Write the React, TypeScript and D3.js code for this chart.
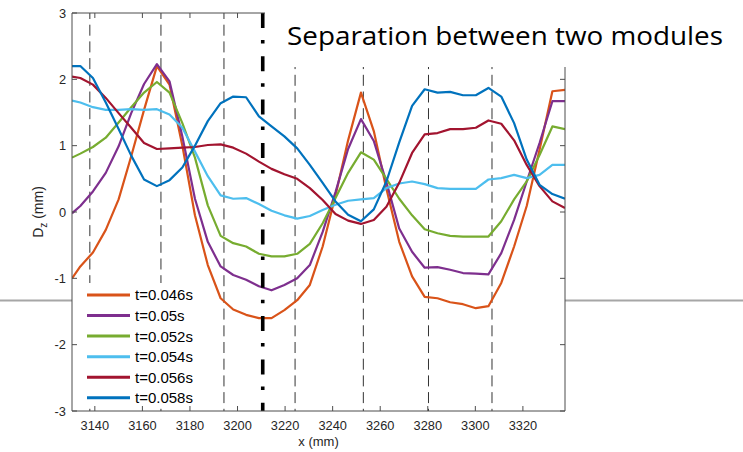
import React from "react";
import * as d3 from "d3";

const width = 743;
const height = 452;
const plot = { left: 72, right: 565, top: 13, bottom: 411 };

// x positions along the module (mm); first value is where the axis cuts the curves
const positions = [
  3130.4, 3133.9, 3139.2, 3144.6, 3150.0, 3155.3, 3160.7, 3166.1, 3171.4, 3176.8,
  3182.1, 3187.5, 3192.9, 3198.2, 3203.6, 3209.0, 3214.3, 3219.7, 3225.1, 3230.4,
  3235.8, 3241.2, 3246.5, 3251.9, 3257.3, 3262.6, 3268.0, 3273.4, 3278.7, 3284.1,
  3289.4, 3294.8, 3300.2, 3305.5, 3310.9, 3316.3, 3321.6, 3327.0, 3332.4, 3337.7,
];

const dz046 = [
  -1.0, -0.82, -0.61, -0.27, 0.19, 0.84, 1.54, 2.2, 1.92, 1.0,
  -0.05, -0.8, -1.3, -1.47, -1.55, -1.6, -1.6, -1.48, -1.33, -1.1,
  -0.52, 0.25, 1.08, 1.8, 1.22, 0.35, -0.45, -0.97, -1.28, -1.3,
  -1.36, -1.39, -1.45, -1.42, -1.07, -0.52, 0.09, 0.94, 1.82, 1.84,
];
const dz050 = [
  -0.02, 0.09, 0.31, 0.59, 0.99, 1.49, 1.93, 2.23, 1.97, 1.14,
  0.2, -0.45, -0.82, -0.95, -1.02, -1.12, -1.18, -1.1, -1.0, -0.8,
  -0.3, 0.3, 0.95, 1.4, 1.07, 0.45, -0.25, -0.6, -0.84, -0.83,
  -0.87, -0.92, -0.93, -0.94, -0.62, -0.12, 0.46, 1.04, 1.67, 1.67,
];
const dz052 = [
  0.82, 0.88, 0.98, 1.12, 1.35, 1.58, 1.8, 1.96, 1.8, 1.34,
  0.82, 0.1, -0.36, -0.47, -0.52, -0.63, -0.67, -0.67, -0.63, -0.48,
  -0.17, 0.21, 0.59, 0.9, 0.79, 0.5, 0.2, -0.05, -0.26, -0.32,
  -0.36, -0.37, -0.37, -0.37, -0.14, 0.19, 0.46, 0.86, 1.29, 1.25,
];
const dz054 = [
  1.68, 1.65, 1.58, 1.54, 1.54, 1.55, 1.54, 1.55, 1.47, 1.27,
  0.91, 0.54, 0.25, 0.2, 0.21, 0.12, 0.02, -0.05, -0.1, -0.06,
  0.03, 0.11, 0.17, 0.19, 0.21, 0.36, 0.43, 0.46, 0.42, 0.36,
  0.35, 0.35, 0.35, 0.49, 0.51, 0.56, 0.51, 0.56, 0.71, 0.71,
];
const dz056 = [
  2.04, 2.02, 1.92, 1.72, 1.49, 1.27, 1.04, 0.95, 0.96, 0.97,
  0.98, 1.01, 1.02, 0.97, 0.88, 0.76, 0.65, 0.57, 0.5, 0.36,
  0.18, -0.03, -0.13, -0.18, -0.12, 0.08, 0.44, 0.89, 1.17, 1.19,
  1.25, 1.25, 1.27, 1.38, 1.33, 1.08, 0.71, 0.39, 0.16, 0.06,
];
const dz058 = [
  2.2, 2.2, 2.02, 1.65, 1.25, 0.85, 0.49, 0.39, 0.48, 0.67,
  1.0, 1.37, 1.64, 1.74, 1.73, 1.44, 1.29, 1.14, 0.96, 0.71,
  0.44, 0.16, -0.04, -0.14, 0.04, 0.46, 1.05, 1.6, 1.85, 1.8,
  1.81, 1.76, 1.76, 1.87, 1.74, 1.34, 0.79, 0.41, 0.27, 0.2,
];

const labels = ["t=0.046s", "t=0.05s", "t=0.052s", "t=0.054s", "t=0.056s", "t=0.058s"];
const colors = ["#D95319", "#7E2F8E", "#77AC30", "#4DBEEE", "#A2142F", "#0072BD"];
const allSeries = [dz046, dz050, dz052, dz054, dz056, dz058];

// dashed lines at the joints, dash-dot at the module boundary
const joints = [3137.9, 3167.8, 3194.3, 3224.2, 3252.9, 3280.3, 3307.0];
const boundary = 3210.6;

const xTicks = [3140, 3160, 3180, 3200, 3220, 3240, 3260, 3280, 3300, 3320];
const yTicks = [-3, -2, -1, 0, 1, 2, 3];

const tickFont = "'Liberation Sans', Arial, Helvetica, sans-serif";

export default function App() {
  const x = d3.scaleLinear().domain([3130.4, 3337.7]).range([plot.left, plot.right]);
  const y = d3.scaleLinear().domain([-3, 3]).range([plot.bottom, plot.top]);

  const line = d3
    .line<number>()
    .x((_, i) => x(positions[i]))
    .y((d) => y(d));

  const boxLeft = 265; // title text box covers the top right of the axes
  const boxBottom = 67;

  return (
    <svg
      width={width}
      height={height}
      style={{ position: "absolute", left: 0, top: 0, display: "block", background: "#fff" }}
    >
      <defs>
        <clipPath id="plotclip">
          <rect x={plot.left} y={plot.top} width={plot.right - plot.left} height={plot.bottom - plot.top} />
        </clipPath>
      </defs>

      {/* slide rule line behind the figure */}
      <line x1={0} x2={width} y1={300.5} y2={300.5} stroke="#a6a6a6" strokeWidth={2} />
      <rect x={plot.left} y={plot.top} width={plot.right - plot.left} height={plot.bottom - plot.top} fill="#fff" />

      <g clipPath="url(#plotclip)">
        {joints.map((j) => (
          <line
            key={j}
            x1={x(j)}
            x2={x(j)}
            y1={plot.top}
            y2={plot.bottom}
            stroke="#333"
            strokeWidth={1}
            strokeDasharray="11 5.7"
            strokeDashoffset={5}
          />
        ))}
        {allSeries.map((s, i) => (
          <path key={labels[i]} d={line(s) || ""} fill="none" stroke={colors[i]} strokeWidth={2.2} strokeLinejoin="round" />
        ))}
      </g>

      <line
        x1={x(boundary)}
        x2={x(boundary)}
        y1={plot.top}
        y2={plot.bottom}
        stroke="#000"
        strokeWidth={3.6}
        strokeDasharray="15 12 3.5 12.8"
      />

      {/* legend */}
      <rect x={82} y={283} width={122} height={124} fill="#fff" />
      {labels.map((l, i) => {
        const ly = 295 + i * 20.55;
        return (
          <g key={l}>
            <line x1={87} x2={130} y1={ly} y2={ly} stroke={colors[i]} strokeWidth={3} />
            <text x={135} y={ly + 5.4} fontFamily={tickFont} fontSize={15} fill="#000">
              {l}
            </text>
          </g>
        );
      })}

      {/* axes box */}
      <g stroke="#4d4d4d" strokeWidth={1} fill="none">
        <line x1={plot.left} x2={plot.left} y1={plot.top} y2={plot.bottom} />
        <line x1={plot.left} x2={plot.right} y1={plot.bottom} y2={plot.bottom} />
        <line x1={plot.left} x2={plot.right} y1={plot.top} y2={plot.top} />
        <line x1={plot.right} x2={plot.right} y1={plot.top} y2={plot.bottom} />
        {xTicks.map((t) => (
          <g key={t}>
            <line x1={x(t)} x2={x(t)} y1={plot.bottom} y2={plot.bottom - 5} />
            <line x1={x(t)} x2={x(t)} y1={plot.top} y2={plot.top + 5} />
          </g>
        ))}
        {yTicks.map((t) => (
          <g key={t}>
            <line x1={plot.left} x2={plot.left + 5} y1={y(t)} y2={y(t)} />
            <line x1={plot.right} x2={plot.right - 5} y1={y(t)} y2={y(t)} />
          </g>
        ))}
      </g>

      <g fontFamily={tickFont} fontSize={12.8} fill="#262626">
        {xTicks.map((t) => (
          <text key={t} x={x(t)} y={430} textAnchor="middle">
            {t}
          </text>
        ))}
        {yTicks.map((t) => (
          <text key={t} x={66} y={y(t) + 4.6} textAnchor="end">
            {t}
          </text>
        ))}
        <text x={(plot.left + plot.right) / 2} y={446} textAnchor="middle" fontSize={13}>
          x (mm)
        </text>
        <text transform={`translate(43, ${(plot.top + plot.bottom) / 2}) rotate(-90)`} textAnchor="middle" fontSize={14}>
          D<tspan dy={4} fontSize={10}>z</tspan>
          <tspan dy={-4}> (mm)</tspan>
        </text>
      </g>

      {/* title text box */}
      <rect x={boxLeft} y={0} width={width - boxLeft} height={boxBottom} fill="#fff" />
      <text
        x={287}
        y={45}
        fontFamily="'Open Sans', 'Noto Sans', sans-serif"
        fontSize={25}
        fill="#000"
        textLength={436}
        lengthAdjust="spacingAndGlyphs"
      >
        Separation between two modules
      </text>
    </svg>
  );
}
